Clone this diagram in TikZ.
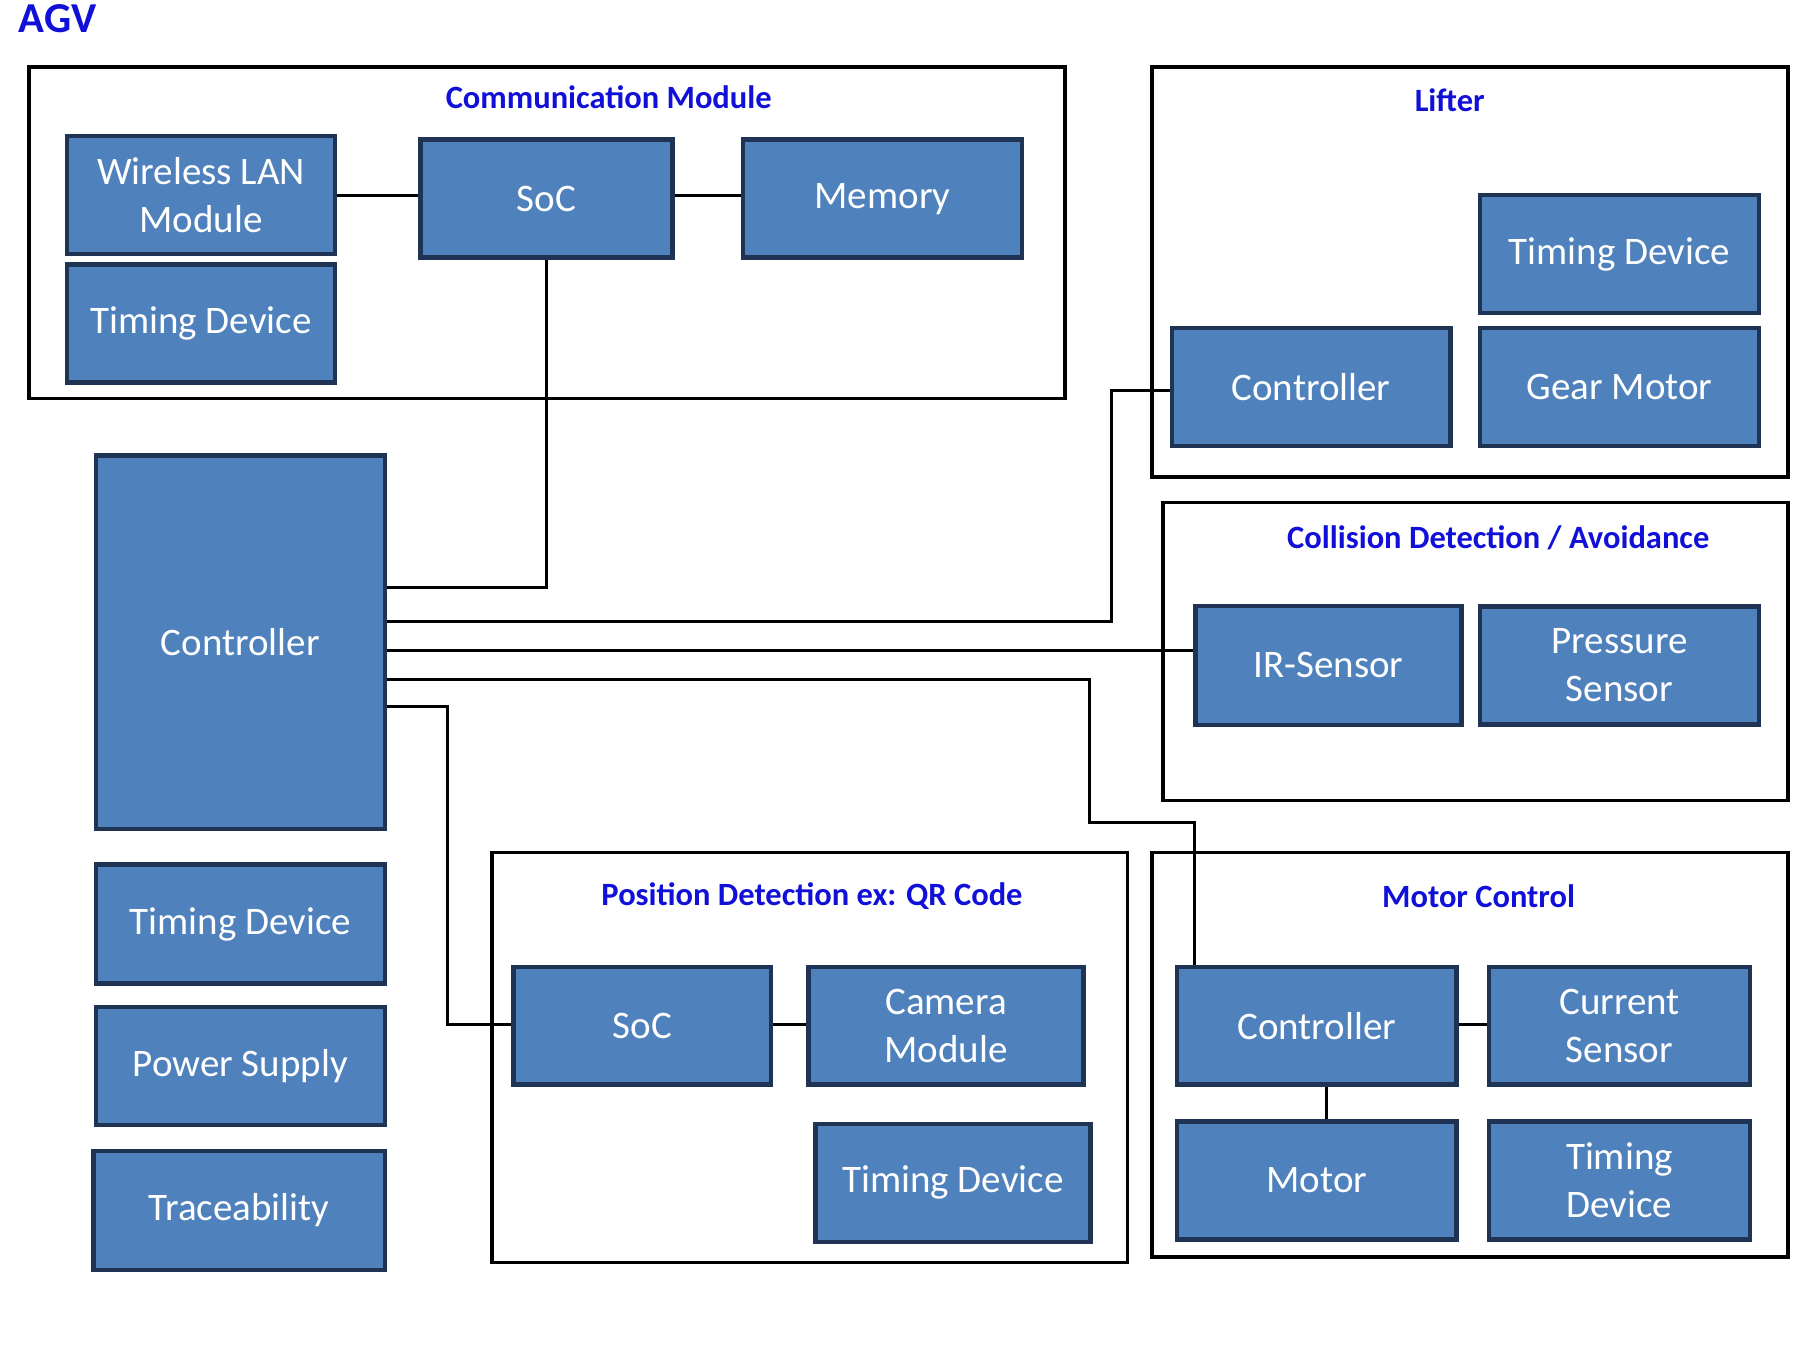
\documentclass[tikz,border=0pt]{standalone}
\usepackage{fontspec}
\setmainfont{Carlito}
\usetikzlibrary{positioning}
\definecolor{blkfill}{HTML}{4F81BD}
\definecolor{blkdraw}{HTML}{1F3354}
\definecolor{ttl}{HTML}{1010D8}
\begin{document}
\begin{tikzpicture}[
    x=0.01cm, y=-0.01cm,
    blk/.style={rectangle, draw=blkdraw, fill=blkfill, line width=1.1pt, text=white, align=center, font=\fontsize{9.6}{11.8}\selectfont, inner sep=0pt},
    grp/.style={draw=black, line width=0.9pt},
    ttl/.style={font=\fontsize{8}{10}\selectfont\bfseries, text=ttl},
    wire/.style={draw=black, line width=0.75pt}
]
\useasboundingbox (0,0) rectangle (1560,1165);

% === Group frames ===
\draw[grp] (25,58) rectangle (922,345);
\draw[grp] (997,58) rectangle (1548,413);
\draw[grp] (1007,435) rectangle (1548,693);
\draw[grp] (426,738) rectangle (976,1093);
\draw[grp] (997,738) rectangle (1548,1088);

\node[font=\fontsize{10.5}{12}\selectfont\bfseries, text=ttl, anchor=west] (agv) at (4,16) {AGV};
\node[ttl] (comm-label) at (527,84) {Communication Module};
\node[ttl] (lift-label) at (1255,87) {Lifter};
\node[ttl] (coll-label) at (1297,466) {Collision Detection / Avoidance};
\node[ttl] (pos-label) at (703,776) {Position Detection ex: QR Code};
\node[ttl] (mot-label) at (1280,776) {Motor Control};

% === Communication Module ===
\node[blk, minimum width=2.32cm, minimum height=1.02cm] (wlan) at (174,169) {Wireless LAN\\Module};
\node[blk, minimum width=2.32cm, minimum height=1.02cm] (comm-timing) at (174,280) {Timing Device};
\node[blk, minimum width=2.18cm, minimum height=1.02cm] (comm-soc) at (473,172) {SoC};
\node[blk, minimum width=2.41cm, minimum height=1.02cm] (memory) at (764,172) {Memory};

% === Lifter ===
\node[blk, minimum width=2.41cm, minimum height=1.02cm] (lift-timing) at (1402,220) {Timing Device};
\node[blk, minimum width=2.41cm, minimum height=1.02cm] (lift-ctrl) at (1135,335) {Controller};
\node[blk, minimum width=2.41cm, minimum height=1.02cm] (gear) at (1402,335) {Gear Motor};

% === Collision Detection ===
\node[blk, minimum width=2.30cm, minimum height=1.03cm] (ir) at (1150,576) {IR-Sensor};
\node[blk, minimum width=2.41cm, minimum height=1.02cm] (pressure) at (1402,576) {Pressure\\Sensor};

% === Main unit (left column) ===
\node[blk, minimum width=2.50cm, minimum height=3.23cm] (ctrl) at (208,556) {Controller};
\node[blk, minimum width=2.50cm, minimum height=1.03cm] (timing) at (208,800) {Timing Device};
\node[blk, minimum width=2.50cm, minimum height=1.02cm] (power) at (208,923) {Power Supply};
\node[blk, minimum width=2.52cm, minimum height=1.03cm] (trace) at (207,1048) {Traceability};

% === Position Detection ===
\node[blk, minimum width=2.23cm, minimum height=1.02cm] (pos-soc) at (556,888) {SoC};
\node[blk, minimum width=2.38cm, minimum height=1.02cm] (camera) at (819,888) {Camera\\Module};
\node[blk, minimum width=2.38cm, minimum height=1.02cm] (pos-timing) at (825,1024) {Timing Device};

% === Motor Control ===
\node[blk, minimum width=2.42cm, minimum height=1.02cm] (mot-ctrl) at (1140,888) {Controller};
\node[blk, minimum width=2.26cm, minimum height=1.02cm] (current) at (1402,888) {Current\\Sensor};
\node[blk, minimum width=2.42cm, minimum height=1.02cm] (motor) at (1140,1022) {Motor};
\node[blk, minimum width=2.26cm, minimum height=1.02cm] (mot-timing) at (1402,1022) {Timing\\Device};

% === Wiring ===
\draw[wire] (wlan.east) -- (wlan.east -| comm-soc.west);
\draw[wire] (comm-soc.east |- 0,169) -- (memory.west |- 0,169);
\draw[wire] (comm-soc.south) |- (ctrl.east |- 0,509);
\draw[wire] (ctrl.east |- 0,538) -| (962,338) -- (lift-ctrl.west |- 0,338);
\draw[wire] (ctrl.east |- 0,563) -- (ir.west |- 0,563);
\draw[wire] (ctrl.east |- 0,588) -| (943,712) -| (mot-ctrl.north west -| 1034,0);
\draw[wire] (ctrl.east |- 0,612) -| (387,887) -- (pos-soc.west |- 0,887);
\draw[wire] (pos-soc.east |- 0,887) -- (camera.west |- 0,887);
\draw[wire] (mot-ctrl.east |- 0,887) -- (current.west |- 0,887);
\draw[wire] (mot-ctrl.south -| 1148,0) -- (motor.north -| 1148,0);
\end{tikzpicture}
\end{document}
